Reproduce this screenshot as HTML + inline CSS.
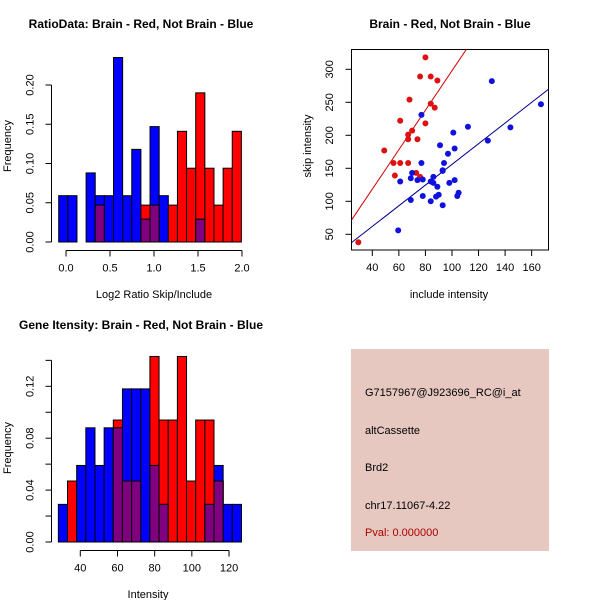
<!DOCTYPE html>
<html><head><meta charset="utf-8"><style>
body{margin:0;background:#fff}
svg{display:block;font-family:"Liberation Sans",sans-serif}
</style></head><body>
<svg id="c" width="600" height="600" viewBox="0 0 600 600">
<rect width="600" height="600" fill="#fff"/>
</svg>
<script>
// Ratio histogram data
const ratioBinStart = -0.083;
const ratioBinWidth = 0.1038;
const ratioRed  = [0,0,0,0,0.047,0,0,0,0,0.047,0.047,0,0.047,0.141,0.094,0.19,0.094,0.047,0.094,0.141];
const ratioBlue = [0.059,0.059,0,0.088,0.059,0.059,0.235,0.059,0.118,0.029,0.147,0.059,0,0,0,0.029,0,0,0,0];
const ratioXTicks = [0,0.5,1,1.5,2];
const ratioXLabels = ["0.0","0.5","1.0","1.5","2.0"];
const ratioYTicks = [0,0.05,0.1,0.15,0.2];
const ratioYLabels = ["0.00","0.05","0.10","0.15","0.20"];
// Scatter data
const redInclude = [80,76,84,89,68,84,87,61,80,70,67,67,74,49,56,61,67,57,73,76,29.5];
const redSkip    = [318,289,289,283,254,248,242,222,218,207,201,194,194,177,158,158,158,139,143,137,38];
const blueInclude = [77,130,167,144,112,101,127,91,102,97,94,77,93,93,70,61,69,74,78,86,84,86,89,98,102,105,104,90,88,78,69,84,93,59.5];
const blueSkip    = [231,282,247,212,213,204,192,185,180,172,158,158,147,146,143,130,135,132,133,137,130,128,122,128,132,113,108,110,107,108,102,100,94,56];
const fitSlope = [2.99, 1.567];
const fitIntercept = [-1.2, -0.8];
const scXTicks = [40,60,80,100,120,140,160];
const scYTicks = [50,100,150,200,250,300];
// Intensity histogram data
const intBinStart = 28.2;
const intBinWidth = 4.925;
const intRed  = [0,0.047,0,0,0,0,0.094,0.047,0.047,0,0.143,0.094,0.094,0.143,0.047,0.094,0.094,0.047,0,0];
const intBlue = [0.029,0,0.059,0.088,0.059,0.088,0.088,0.118,0.118,0.118,0.059,0.029,0,0,0,0,0.029,0.059,0.029,0.029];
const intXTicks = [40,60,80,100,120];
const intYTicks = [0,0.02,0.04,0.06,0.08,0.1,0.12,0.14];
const intYLabels = ["0.00","","0.04","","0.08","","0.12",""];

const svg = document.getElementById('c');
const NS = 'http://www.w3.org/2000/svg';
function mk(tag, attrs, parent){const e=document.createElementNS(NS,tag);for(const k in attrs)e.setAttribute(k,attrs[k]);(parent||svg).appendChild(e);return e;}
function txt(x,y,s,attrs,parent){const e=mk('text',Object.assign({x:x,y:y},attrs),parent);e.textContent=s;return e;}

function hist(opts){
  const g=mk('g',{});
  
  
  const X=v=>opts.x0+(v-opts.xv0)*opts.xs, Y=v=>opts.y0-v*opts.ys;
  for(let i=0;i<opts.red.length;i++){
    const a=opts.start+i*opts.w, b=a+opts.w;
    const r=opts.red[i], bl=opts.blue[i];
    const x1=X(a), x2=X(b);
    if(r>0){const e=mk('rect',{x:x1,y:Y(r),width:x2-x1,height:Y(0)-Y(r),fill:'#ff0000',stroke:'#000','stroke-width':1},g);
      
      }
    if(bl>0){const e=mk('rect',{x:x1,y:Y(bl),width:x2-x1,height:Y(0)-Y(bl),fill:'#0000ff',stroke:'#000','stroke-width':1},g);
      
      }
    const m=Math.min(r,bl);
    if(m>0){const e=mk('rect',{x:x1,y:Y(m),width:x2-x1,height:Y(0)-Y(m),fill:'#800080',stroke:'#000','stroke-width':1},g);
      
      }
  }
  const ya=mk('g',{});
  
  
  const yt=opts.yTicks;
  mk('line',{x1:opts.ax,y1:Y(yt[0]),x2:opts.ax,y2:Y(yt[yt.length-1]),stroke:'#000'},ya);
  yt.forEach((v,i)=>{mk('line',{x1:opts.ax-6,y1:Y(v),x2:opts.ax,y2:Y(v),stroke:'#000'},ya);
    if(opts.yLabels[i]) txt(opts.ax-18,Y(v),opts.yLabels[i],{'font-size':11,'text-anchor':'middle',transform:`rotate(-90 ${opts.ax-18} ${Y(v)})`},ya);});
  const xa=mk('g',{});
  
  
  const xt=opts.xTicks;
  mk('line',{x1:X(xt[0]),y1:opts.ay,x2:X(xt[xt.length-1]),y2:opts.ay,stroke:'#000'},xa);
  xt.forEach((v,i)=>{mk('line',{x1:X(v),y1:opts.ay,x2:X(v),y2:opts.ay+6,stroke:'#000'},xa);
    txt(X(v),opts.ay+21,opts.xLabels[i],{'font-size':11,'text-anchor':'middle'},xa);});
}

hist({name:'ratio-histogram',x0:66,xv0:0,xs:88,y0:242,ys:785,start:ratioBinStart,w:ratioBinWidth,red:ratioRed,blue:ratioBlue,
  yTicks:ratioYTicks,yLabels:ratioYLabels,xTicks:ratioXTicks,xLabels:ratioXLabels,ax:51.5,ay:250.5});
hist({name:'intensity-histogram',x0:80.3,xv0:40,xs:1.859,y0:542,ys:1297.5,start:intBinStart,w:intBinWidth,red:intRed,blue:intBlue,
  yTicks:intYTicks,yLabels:intYLabels,xTicks:intXTicks,xLabels:intXTicks.map(String),ax:51.5,ay:550.5});

(function(){
  const g=mk('g',{});
  
  
  const X=v=>372.3+(v-40)*1.328, Y=v=>69.3-(v-300)*0.66;
  mk('rect',{x:351.5,y:49.5,width:197,height:200.5,fill:'none',stroke:'#000'},g);
  const cp=mk('clipPath',{id:'scclip'},g);mk('rect',{x:351.5,y:49.5,width:197,height:200.5},cp);
  const lines=mk('g',{'clip-path':'url(#scclip)'},g);
  const cols=['#cc0000','#00008b'];
  [0,1].forEach(i=>{const e=mk('line',{x1:X(20),y1:Y(fitSlope[i]*20+fitIntercept[i]),x2:X(180),y2:Y(fitSlope[i]*180+fitIntercept[i]),stroke:cols[i],'stroke-width':1},lines);
    
    });
  redInclude.forEach((v,i)=>{const e=mk('circle',{cx:X(v),cy:Y(redSkip[i]),r:3,fill:'#dd1111'},g);
    
    });
  blueInclude.forEach((v,i)=>{const e=mk('circle',{cx:X(v),cy:Y(blueSkip[i]),r:3,fill:'#1111dd'},g);
    
    });
  scXTicks.forEach(v=>{mk('line',{x1:X(v),y1:250,x2:X(v),y2:256,stroke:'#000'},g);txt(X(v),271,String(v),{'font-size':11,'text-anchor':'middle'},g);});
  scYTicks.forEach(v=>{mk('line',{x1:345.5,y1:Y(v),x2:351.5,y2:Y(v),stroke:'#000'},g);txt(333,Y(v),String(v),{'font-size':11,'text-anchor':'middle',transform:`rotate(-90 333 ${Y(v)})`},g);});
})();

const T=[[141,28,'RatioData: Brain - Red, Not Brain - Blue','ratio-title',true],
 [450,28,'Brain - Red, Not Brain - Blue','scatter-title',true],
 [141,329,'Gene Itensity: Brain - Red, Not Brain - Blue','intensity-title',true],
 [154,298,'Log2 Ratio Skip/Include','ratio-x-title',false],
 [449,298,'include intensity','scatter-x-title',false],
 [148,598,'Intensity','intensity-x-title',false]];
T.forEach(t=>{const e=txt(t[0],t[1],t[2],{'font-size':t[4]?12:11,'font-weight':t[4]?'bold':'normal','text-anchor':'middle'});
  
  });
[[11,146,'Frequency','ratio-y-title'],[311,146,'skip intensity','scatter-y-title'],[11,448,'Frequency','intensity-y-title']].forEach(t=>{
  const e=txt(t[0],t[1],t[2],{'font-size':11,'text-anchor':'middle',transform:`rotate(-90 ${t[0]} ${t[1]})`});
  
  });
</script>
<script>
(function(){
  const svg=document.getElementById('c');const NS='http://www.w3.org/2000/svg';
  const g=document.createElementNS(NS,'g');svg.appendChild(g);
  
  
  const r=document.createElementNS(NS,'rect');
  r.setAttribute('x',351);r.setAttribute('y',349);r.setAttribute('width',198);r.setAttribute('height',202);r.setAttribute('fill','#e6c8c1');g.appendChild(r);
  [[396,'G7157967@J923696_RC@i_at','probe-id','#000'],[434,'altCassette','event-type','#000'],[471,'Brd2','gene-name','#000'],[509,'chr17.11067-4.22','location','#000'],[536,'Pval: 0.000000','p-value','#aa0000']].forEach(t=>{
    const e=document.createElementNS(NS,'text');e.setAttribute('x',365);e.setAttribute('y',t[0]);e.setAttribute('font-size',11);e.setAttribute('fill',t[3]);e.textContent=t[1];
    
    
    g.appendChild(e);});
})();
</script>
</body></html>
